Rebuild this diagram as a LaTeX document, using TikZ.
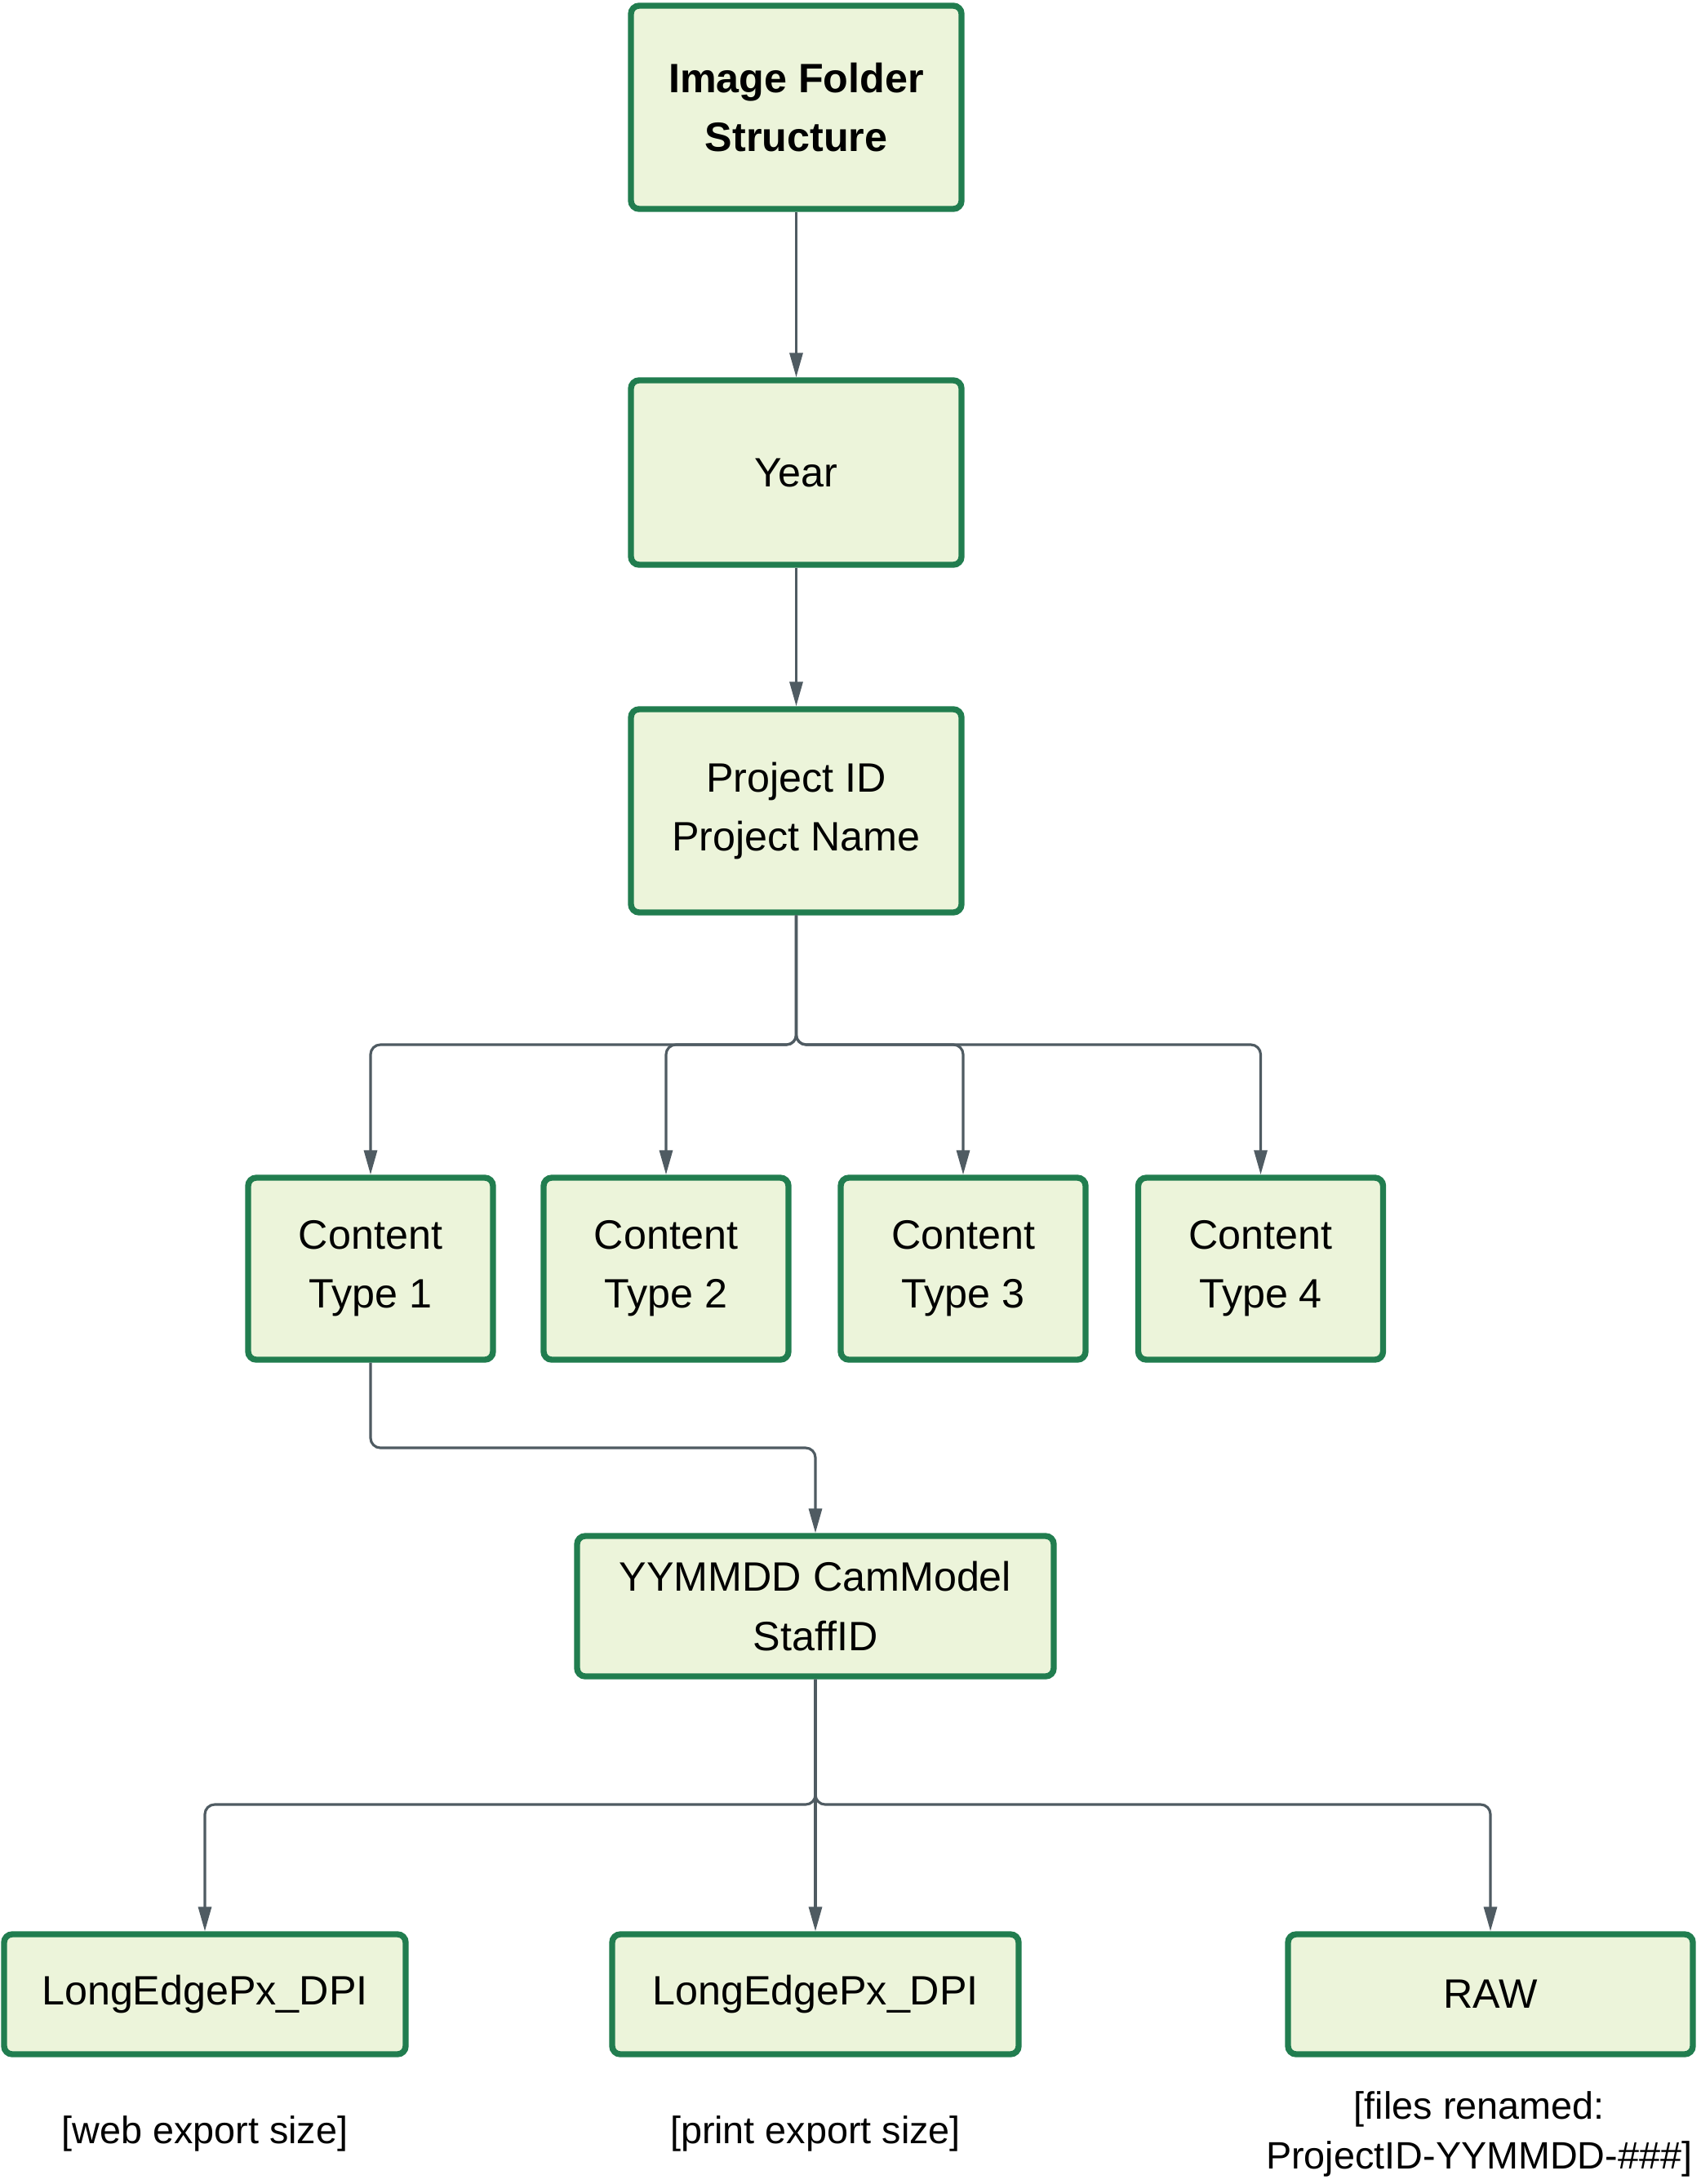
\documentclass[tikz,border=0pt]{standalone}
\usepackage{fontspec}
\setmainfont{Liberation Sans}
\usetikzlibrary{arrows.meta}
\definecolor{boxline}{HTML}{217D4F}
\definecolor{boxfill}{HTML}{ECF4DA}
\definecolor{linkgray}{HTML}{4F5B62}

\begin{document}
\begin{tikzpicture}[
        folder/.style={draw=boxline, fill=boxfill, line width=2.1pt, rounded corners=0.1cm,
            align=center, inner sep=0pt, font=\fontsize{14.3}{20.5}\selectfont},
        link/.style={draw=linkgray, line width=0.9pt, rounded corners=0.12cm,
            -{Triangle[length=0.3cm,width=0.16cm]}},
        note/.style={align=center, inner sep=0pt, font=\fontsize{13.3}{17.4}\selectfont}
    ]
            \useasboundingbox (0,0) rectangle (20.83,-26.76);
            \node[folder, minimum width=4.05cm, minimum height=2.49cm] (root) at (9.755,-1.315) {\textbf{Image Folder}\\\textbf{Structure}};
            \node[folder, minimum width=4.05cm, minimum height=2.26cm] (year) at (9.755,-5.79) {Year};
            \node[folder, minimum width=4.05cm, minimum height=2.49cm] (proj) at (9.755,-9.935) {Project ID\\Project Name};
            \node[folder, minimum width=3.0cm, minimum height=2.23cm] (ct1) at (4.54,-15.545) {Content\\Type 1};
            \node[folder, minimum width=3.0cm, minimum height=2.23cm] (ct2) at (8.16,-15.545) {Content\\Type 2};
            \node[folder, minimum width=3.0cm, minimum height=2.23cm] (ct3) at (11.80,-15.545) {Content\\Type 3};
            \node[folder, minimum width=3.0cm, minimum height=2.23cm] (ct4) at (15.445,-15.545) {Content\\Type 4};
            \node[folder, minimum width=5.84cm, minimum height=1.72cm] (cam) at (9.99,-19.68) {YYMMDD CamModel\\StaffID};
            \node[folder, minimum width=4.92cm, minimum height=1.47cm] (web) at (2.51,-24.435) {LongEdgePx\_DPI};
            \node[folder, minimum width=4.98cm, minimum height=1.47cm] (print) at (9.99,-24.435) {LongEdgePx\_DPI};
            \node[folder, minimum width=4.96cm, minimum height=1.47cm] (raw) at (18.26,-24.435) {RAW};
            \node[note] (webnote) at (2.51,-26.14) {[web export size]};
            \node[note] (printnote) at (9.99,-26.14) {[print export size]};
            \node[note, anchor=east] (rawnote) at (20.74,-26.15) {[files renamed:\\ProjectID-YYMMDD-\#\#\#]};
            \coordinate (split) at (9.755,-12.80);
            \coordinate (bend) at (4.54,-17.74);
            \coordinate (fork) at (9.99,-22.11);
            \draw[link] (root) -- (year);
            \draw[link] (year) -- (proj);
            \foreach \ct in {ct1,ct2,ct3,ct4}
                \draw[link] (proj.south) -- (split) -| (\ct.north);
            \draw[link] (ct1.south) -- (bend) -| (cam.north);
            \foreach \out in {web,print,raw}
                \draw[link] (cam.south) -- (fork) -| (\out.north);
\end{tikzpicture}
\end{document}
